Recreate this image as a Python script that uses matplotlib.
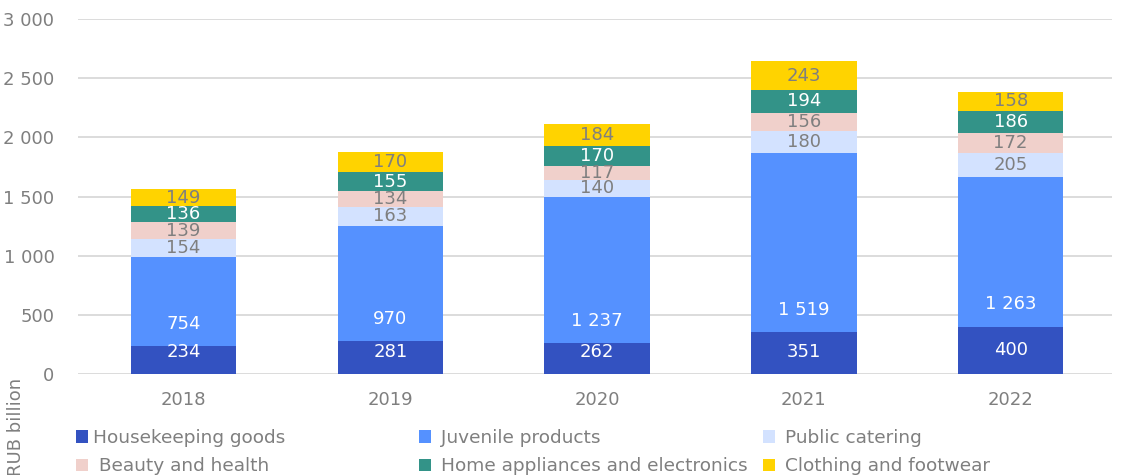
import matplotlib
matplotlib.use("Agg")
import matplotlib.pyplot as plt
from matplotlib.patches import Patch
import numpy as np

years = ["2018", "2019", "2020", "2021", "2022"]
series_names = ["Housekeeping goods", "Juvenile products", "Public catering",
                " Beauty and health", "Home appliances and electronics", "Clothing and footwear"]
housekeeping = [234, 281, 262, 351, 400]
juvenile = [754, 970, 1237, 1519, 1263]
catering = [154, 163, 140, 180, 205]
beauty = [139, 134, 117, 156, 172]
appliances = [136, 155, 170, 194, 186]
clothing = [149, 170, 184, 243, 158]
yticks = [0, 500, 1000, 1500, 2000, 2500, 3000]

colors = ["#3352C1", "#5591FF", "#D3E2FF", "#F0D0CB", "#339388", "#FFD300"]
label_colors = ["white", "white", "#7F7F7F", "#7F7F7F", "white", "#7F7F7F"]
GRAY = "#7F7F7F"
FS = 13

plt.rcParams['font.family'] = ['DejaVu Sans']

fig = plt.figure(figsize=(11.25, 4.75), dpi=100)
ax = fig.add_axes([78/1125, 1-374/475, (1112-78)/1125, (374-19)/475])

data = [housekeeping, juvenile, catering, beauty, appliances, clothing]
x = np.arange(len(years))
bottom = np.zeros(len(years))
for i, vals in enumerate(data):
    vals = np.array(vals, dtype=float)
    ax.bar(x + 0.01, vals, 0.51, bottom=bottom, color=colors[i], edgecolor='none',
           label=series_names[i], zorder=3)
    for j, v in enumerate(vals):
        if i == 0:
            ypos = max(v / 2, 190)
        elif i == 1:
            ypos = bottom[j] + 188
        else:
            ypos = bottom[j] + v / 2
        ax.text(x[j] + 0.01, ypos, f"{int(v):,}".replace(",", " "), ha='center', va='center',
                color=label_colors[i], fontsize=FS, zorder=4)
    bottom += vals

ax.set_xlim(-0.5, len(years) - 0.5)
ax.set_ylim(0, 3000)
ax.set_yticks(yticks)
ax.set_yticklabels([f"{t:,}".replace(",", " ") for t in yticks])
ax.set_xticks(x + 0.01)
ax.set_xticklabels(years)
ax.tick_params(axis='both', length=0, colors=GRAY, labelsize=FS)
ax.tick_params(axis='y', pad=17)
ax.tick_params(axis='x', pad=12)
for s in ax.spines.values():
    s.set_visible(False)
ax.grid(axis='y', color='#D9D9D9', linewidth=1.3, zorder=0)
ax.set_axisbelow(True)

fig.text(16/1125, 1-378/475, "RUB billion", rotation=90, ha='center', va='top',
         color=GRAY, fontsize=FS)

cols = [(0, 3), (1, 4), (2, 5)]
xs = [76, 419, 763]
pads = [0.28, 0.55, 0.55]
for (a, b), xp, pd in zip(cols, xs, pads):
    handles = [Patch(facecolor=colors[a]), Patch(facecolor=colors[b])]
    leg = fig.legend(handles, [series_names[a], series_names[b]], loc='upper left',
                     bbox_to_anchor=(xp/1125, 1-429/475), frameon=False, fontsize=13.3,
                     borderpad=0, borderaxespad=0, handlelength=0.65, handleheight=0.65,
                     handletextpad=pd, labelspacing=0.56)
    for t in leg.get_texts():
        t.set_color(GRAY)

fig.savefig("out.png", dpi=100)
